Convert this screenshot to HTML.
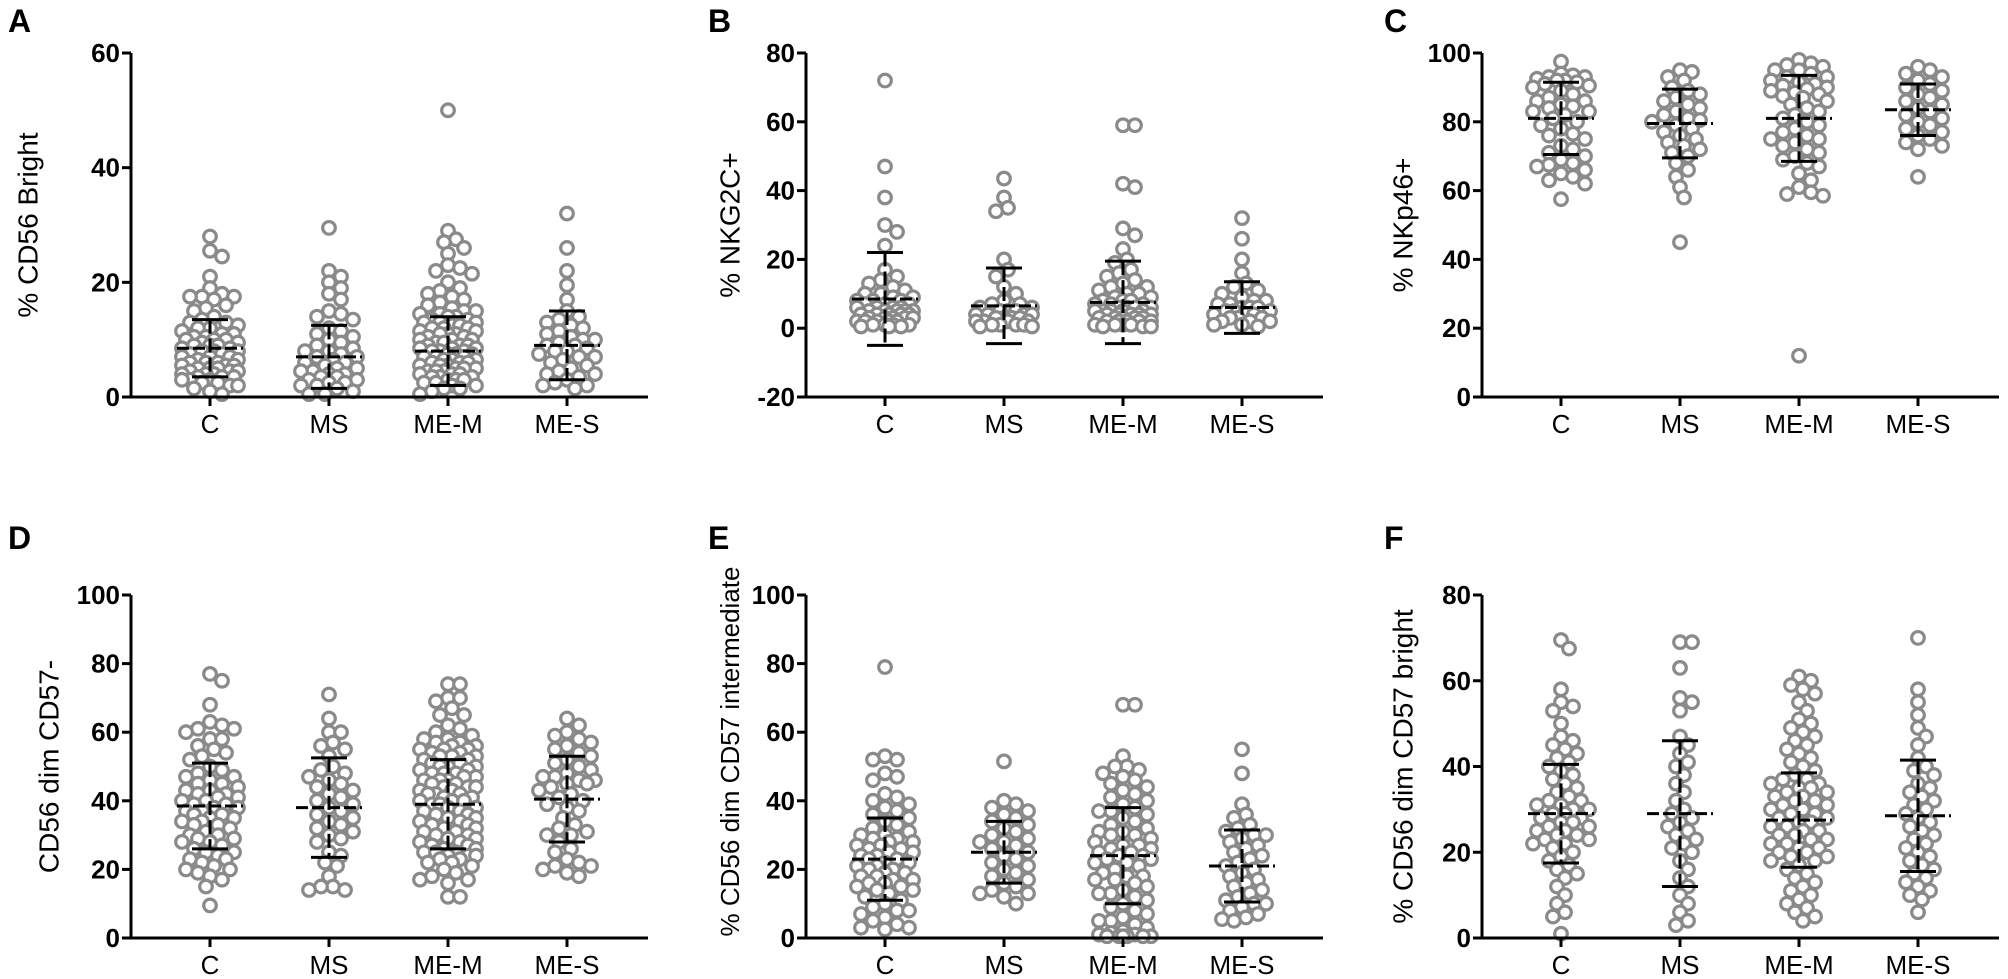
<!DOCTYPE html>
<html><head><meta charset="utf-8">
<style>
html,body{margin:0;padding:0;background:#fff;}
svg{display:block;}
.tick{font-family:"Liberation Sans Narrow","Liberation Sans",sans-serif;font-weight:bold;font-size:26px;fill:#000;}
.cat{font-family:"Liberation Sans Narrow","Liberation Sans",sans-serif;font-size:26px;fill:#000;}
.ttl{font-family:"Liberation Sans",sans-serif;font-size:28px;fill:#000;}
.let{font-family:"Liberation Sans",sans-serif;font-weight:bold;font-size:32px;fill:#000;}
</style></head>
<body>
<svg id="fig" width="2008" height="979" viewBox="0 0 2008 979" xmlns="http://www.w3.org/2000/svg"></svg>
<script>
const categories = ["C","MS","ME-M","ME-S"];
const panelLetters = ["A","B","C","D","E","F"];
const panelTitles = ["% CD56 Bright","% NKG2C+","% NKp46+","CD56 dim CD57-","% CD56 dim CD57 intermediate","% CD56 dim CD57 bright"];
const yMins = [0,-20,0,0,0,0];
const yMaxs = [60,80,100,100,100,80];
const yTicksA = [0,20,40,60];
const yTicksB = [-20,0,20,40,60,80];
const yTicksC = [0,20,40,60,80,100];
const yTicksD = [0,20,40,60,80,100];
const yTicksE = [0,20,40,60,80,100];
const yTicksF = [0,20,40,60,80];
const means = [[8.5,7,8,9],[8.5,6.5,7.5,6],[81,79.5,81,83.5],[38.5,38,39,40.5],[23,25,24,21],[29,29,27.5,28.5]];
const sds = [[5,5.5,6,6],[13.5,11,12,7.5],[10.5,10,12.5,7.5],[12.5,14.5,13,12.5],[12,9,14,10.5],[11.5,17,11,13]];
const dataA_C=[28,25.5,24.5,21,19,18,17.5,17.5,17.5,17,16,15.5,15,14,13.5,13,13,12.5,12,12,11.5,11,11,10.5,10.5,10,10,10,9.5,9.5,9,9,9,8.5,8.5,8,8,8,7.5,7.5,7,7,7,6.5,6.5,6,6,6,5.5,5.5,5.5,5,5,5,4.5,4.5,4.5,4,4,4,3.5,3.5,3.5,3,3,3,2.5,2.5,2,2,1.5,1,0.5];
const dataA_MS=[29.5,22,21,20,19,18,17,15,14.5,14,13.5,12,11.5,11,10.5,10,9.5,9,8.5,8,8,7.5,7,7,6.5,6,6,5.5,5,5,4.5,4.5,4,4,3.5,3.5,3,3,2.5,2.5,2,2,1.5,1,0.5,0.5];
const dataA_MEM=[50,29,27.5,27,26,25,23,22.5,22,21.5,20,19,18.5,18,17.5,17,16.5,16,15.5,15,15,14.5,14.5,14,14,13.5,13.5,13,13,13,12.5,12.5,12,12,12,11.5,11.5,11,11,11,10.5,10.5,10,10,10,9.5,9.5,9,9,9,8.5,8.5,8.5,8,8,8,7.5,7.5,7.5,7,7,7,6.5,6.5,6.5,6,6,6,5.5,5.5,5.5,5,5,5,4.5,4.5,4.5,4,4,4,3.5,3.5,3.5,3,3,3,2.5,2.5,2,2,1.5,1.5,1,0.5];
const dataA_MES=[32,26,22,19.5,17,15,14,13.5,13,12.5,12,11.5,11,10.5,10,10,9.5,9,9,8.5,8,8,7.5,7,7,6.5,6,5.5,5,4.5,4,4,3.5,3,2.5,2,2,1.5];
const dataB_C=[72,47,38,30,28,24,17,15,14,13,12,11,10,10,9,9,8,8,8,7,7,7,6,6,6,6,5,5,5,5,5,4,4,4,4,4,3,3,3,3,3,2,2,2,2,2,1,1,1,1,0.5,0.5,0.5];
const dataB_MS=[43.5,38,35,34,20,17,15,12,10,8,7,7,6,6,5,5,5,4,4,4,4,3,3,3,3,2,2,2,2,1,1,1,1,0.5,0.5];
const dataB_MEM=[59,59,42,41,29,27,23,20,19,17,16,15,14,13,12,12,11,10,10,9,9,8,8,8,7,7,7,6,6,6,6,5,5,5,5,5,4,4,4,4,4,3,3,3,3,3,2,2,2,2,2,1,1,1,1,0.5,0.5,0.5];
const dataB_MES=[32,26,20,16,13,12,11,10,9,8,8,7,7,6,6,6,5,5,5,4,4,4,3,3,3,2,2,2,1,1,0.5];
const dataC_C=[97.5,94,93.5,93,93,92.5,92,92,91.5,91,90.5,90,89,88,87,86,86,85,84.5,84,83,83,82,81,80,79,78,76.5,76,75,73,72,71,70,69,68,67.5,67,66,65,64,63,62,57.5];
const dataC_MS=[95,94.5,93,92,90,89,88,87,86,85,84,83,82,81,80.5,80,79,78,77,76,75,74,73,72,71,70,68,66,64,61,58,45];
const dataC_MEM=[98,97,96.5,96,95,95,94,93,93,92,91.5,91,90.5,90,89.5,89,88.5,88,87.5,87,86,85,84,83,82,81,80,79,78,77,76,75,75,74,73,72,71,70,69,68,67,65,63,61,59.5,59,58.5,12];
const dataC_MES=[96,95,94,93,92,91,90,89,88,87,86,85,84,83,82,81,80,79,78,77,76,75,74,73,72,64];
const dataD_C=[77,75,68,63,62,61,61,60,58,58,56,55,54,53,52,50,49,48,47,47,46,45,45,44,43,43,42,42,41,41,40,40,39,39,38,38,37,37,36,36,35,35,34,34,33,33,32,31,30,30,29,29,28,28,27,26,25,25,24,23,23,22,21,20,20,19,18,17,15,9.5];
const dataD_MS=[71,64,60,60,57,56,55,53,50,49,48,47,46,45,44,43,42,41,40,39,38,37,36,35,34,33,32,31,30,29,28,25,24,22,21,18,15,15,14,14];
const dataD_MEM=[74,74,70,70,69,67,65,65,62,61,60,59,58,58,57,57,56,56,55,55,55,54,54,53,53,53,52,52,51,51,50,50,50,49,49,48,48,48,47,47,46,46,46,45,45,44,44,44,43,43,42,42,42,41,41,40,40,40,39,39,38,38,37,37,36,36,35,35,34,34,33,33,32,32,31,31,30,30,29,29,28,28,27,27,26,26,25,25,25,24,24,24,23,23,22,22,21,20,19,18,17,17,16,12,12];
const dataD_MES=[64,62,60,59,58,57,56,55,54,53,52,51,50,49,48,47,47,46,46,45,45,44,43,42,41,40,39,38,37,35,33,32,31,30,30,28,26,25,23,22,21,21,20,19,18];
const dataE_C=[79,53,52,52,48,47,46,42,41,40,39,38,37,36,35,34,33,32,31,30,30,29,29,28,28,27,27,26,26,25,25,24,24,23,23,22,22,21,21,20,20,19,19,18,18,17,17,16,16,15,15,14,14,13,12,11,10,9,8,8,7,6,5,4,3,3,2.5];
const dataE_MS=[51.5,40,39,38,37,36,35,34,33,32,31,30,29,28,28,27,26,25,24,23,22,21,20,19,18,17,16,15,14,13,13,12,10];
const dataE_MEM=[68,68,53,50,50,49,48,47,46,45,44,43,42,41,40,39,38,37,37,36,35,34,33,32,31,31,30,30,29,28,27,27,26,26,25,25,24,24,23,23,22,22,21,20,19,18,18,17,17,16,15,14,13,13,12,11,10,9,8,7,6,5,5,4,3,2,1.5,1,1,0.5,0.5,0.5,0.5,0.5,0.5];
const dataE_MES=[55,48,39,36,35,33,32,31,30,30,29,28,27,26,25,24,23,22,21,20,19,18,17,16,15,14,13,12,11,10,10,9,8,7,6,5.5,5];
const dataF_C=[69.5,67.5,58,55,54,53,50,47,46,45,44,43,42,41,40,39,38,37,36,35,34,33,32,32,31,31,30,30,29,29,28,28,27,27,26,26,25,25,24,24,23,23,22,22,21,20,19,18,17,16,15,14,12,10,8,6,5,1];
const dataF_MS=[69,69,63,56,55,53,47,45,43,41,40,38,36,34,32,30,29,28,27,26,25,24,23,22,21,20,18,16,14,12,10,8,6,4,3];
const dataF_MEM=[61,60,59,58,57,55,53,51,50,49,48,47,46,45,44,43,42,41,40,39,38,37,37,36,36,35,35,34,34,33,33,32,32,31,31,30,30,29,29,28,28,27,27,26,26,25,25,24,24,23,23,22,22,21,21,20,20,19,19,18,18,17,16,15,14,13,12,11,10,9,8,7,6,5,4];
const dataF_MES=[70,58,55,52,49,47,45,42,40,39,38,36,35,34,33,32,31,30,29,28,27,26,25,24,23,22,21,20,19,18,17,16,15,14,13,12,11,10,9,6];

const allData=[[dataA_C,dataA_MS,dataA_MEM,dataA_MES],[dataB_C,dataB_MS,dataB_MEM,dataB_MES],[dataC_C,dataC_MS,dataC_MEM,dataC_MES],[dataD_C,dataD_MS,dataD_MEM,dataD_MES],[dataE_C,dataE_MS,dataE_MEM,dataE_MES],[dataF_C,dataF_MS,dataF_MEM,dataF_MES]];
const allTicks=[yTicksA,yTicksB,yTicksC,yTicksD,yTicksE,yTicksF];

const NS="http://www.w3.org/2000/svg";
const svg=document.getElementById('fig');
function mk(tag,attrs,parent){const e=document.createElementNS(NS,tag);for(const k in attrs)e.setAttribute(k,attrs[k]);(parent||svg).appendChild(e);return e;}

const colAxis=[131,806,1482];
const rowTop=[53,595], rowBot=[397,938];
const titleOff=[-101,-74,-77];
const catOff=[79,198,317,436];
const axisLen=517;
const MINDIST=11, MAXSPREAD=31;

for(let p=0;p<6;p++){
  const col=p%3,row=Math.floor(p/3);
  const ax=colAxis[col],top=rowTop[row],bot=rowBot[row];
  const ymin=yMins[p],ymax=yMaxs[p];
  const yS=v=>bot-(v-ymin)/(ymax-ymin)*(bot-top);
  const xS=i=>ax+catOff[i];
  const g=mk('g',{});
  
  
  const L=mk('text',{x:col==0?8:ax-98,y:row==0?32:549,class:'let'},g);
  L.textContent=panelLetters[p];
  
  
  const tx=ax+(p==3?-80:titleOff[col]), ty=(top+bot)/2+(p==4?-15:0);
  const T=mk('text',{x:tx,y:ty,class:'ttl','text-anchor':'middle',transform:'rotate(-90 '+tx+' '+ty+')','dominant-baseline':'middle'},g);
  if(p==4) T.setAttribute('style','font-size:26px');
  T.textContent=panelTitles[p];
  
  
  for(let c=0;c<4;c++){
    const vals=allData[p][c].slice().sort((a,b)=>b-a);
    const placed=[];const cx0=xS(c);
    const gp=mk('g',{},g);
    
    
    for(const v of vals){
      const cy=yS(v);let best=0,bestD=-1;
      for(let k=0;k<=2*Math.floor(MAXSPREAD/4);k++){
        const off=(k%2?1:-1)*Math.ceil(k/2)*4;
        let md=1e9;for(const q of placed){const d=Math.hypot(q[0]-(cx0+off),q[1]-cy);if(d<md)md=d;}
        if(md>=MINDIST){best=off;break;}
        if(md>bestD+0.5){bestD=md;best=off;}
      }
      placed.push([cx0+best,cy]);
      const ci=mk('circle',{cx:cx0+best,cy:cy,r:6.3,fill:'#fff',stroke:'#8a8a8a','stroke-width':3.2},gp);
      
      
    }
  }
  for(let c=0;c<4;c++){
    const cx=xS(c),m=means[p][c],s=sds[p][c];
    const ml=mk('line',{x1:cx-33,x2:cx+33,y1:yS(m),y2:yS(m),stroke:'#000','stroke-width':3,'stroke-dasharray':'12 4'},g);
    
    
    const vl=mk('line',{x1:cx,x2:cx,y1:yS(m+s),y2:yS(m-s),stroke:'#000','stroke-width':3,'stroke-dasharray':'14 5'},g);
    
    
    for(const v of [m+s,m-s]){
      const cp=mk('line',{x1:cx-18,x2:cx+18,y1:yS(v),y2:yS(v),stroke:'#000','stroke-width':3},g);
      
      
    }
  }
  const ya=mk('line',{x1:ax,x2:ax,y1:top,y2:bot+1.5,stroke:'#000','stroke-width':3},g);
  
  
  const xa=mk('line',{x1:ax-1.5,x2:ax+axisLen,y1:bot,y2:bot,stroke:'#000','stroke-width':3},g);
  
  
  for(const t of allTicks[p]){
    const tl=mk('line',{x1:ax-9,x2:ax,y1:yS(t),y2:yS(t),stroke:'#000','stroke-width':3},g);
    
    
    const tt=mk('text',{x:ax-11,y:yS(t)+9,class:'tick','text-anchor':'end'},g);
    tt.textContent=t;
    
    
  }
  for(let c=0;c<4;c++){
    const tl=mk('line',{x1:xS(c),x2:xS(c),y1:bot,y2:bot+9,stroke:'#000','stroke-width':3},g);
    
    
    const ct=mk('text',{x:xS(c),y:bot+36,class:'cat','text-anchor':'middle'},g);
    ct.textContent=categories[c];
    
    
  }
}
</script>
</body></html>
